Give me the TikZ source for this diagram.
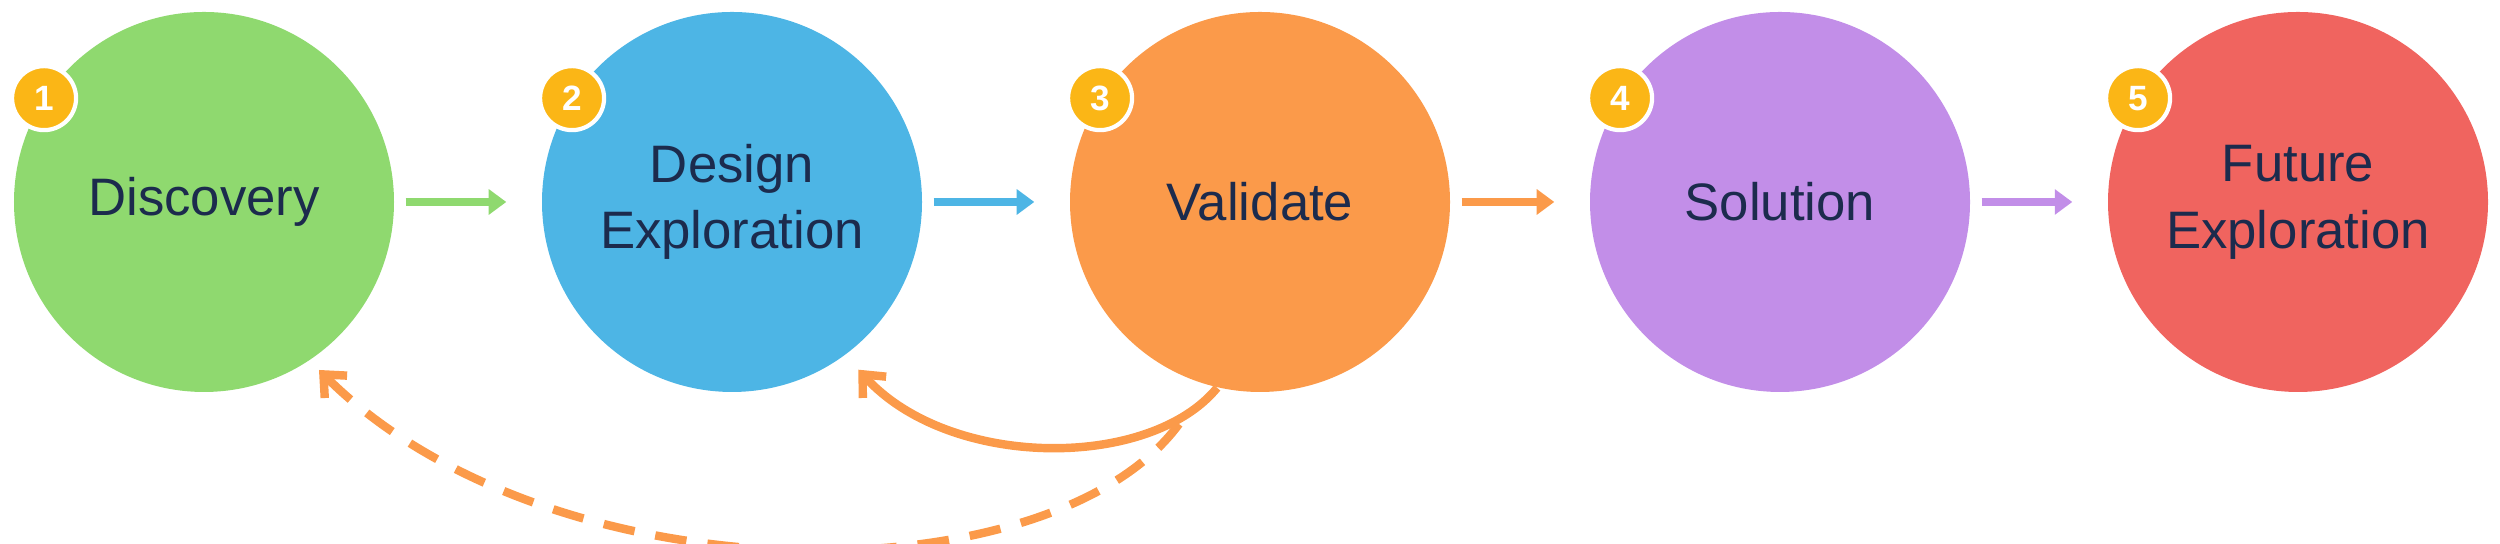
\documentclass[tikz,border=0pt]{standalone}
\usepackage{fontspec}
\setmainfont{Liberation Sans}
\usetikzlibrary{positioning}
\usetikzlibrary{calc}
\usetikzlibrary{arrows.meta}

\definecolor{navy}{HTML}{1C2B4D}
\definecolor{stepgreen}{HTML}{8FD96F}
\definecolor{stepblue}{HTML}{4DB5E5}
\definecolor{steporange}{HTML}{FB9A4A}
\definecolor{steppurple}{HTML}{C28EE8}
\definecolor{stepred}{HTML}{F0645F}
\definecolor{badgeyellow}{HTML}{FBB616}

\tikzset{
    stage/.style={circle, minimum size=3.8cm, inner sep=0, align=center,
        text=navy, font=\fontsize{15}{19}\selectfont},
    badge/.style={circle, fill=badgeyellow, draw=white, line width=1.2pt,
        minimum size=0.64cm, inner sep=0, text=white,
        font=\fontsize{10}{10}\selectfont\bfseries},
    flow/.style={line width=2.4pt, shorten <=0.11cm, shorten >=0.35cm,
        -{Triangle[width=7pt,length=5pt]}},
    backflow/.style={line width=2.4pt, draw=steporange,
        -{Straight Barb[width=9pt,length=5pt]}}
}

\begin{document}
\begin{tikzpicture}

% Stages of the process

\useasboundingbox (0,0) rectangle (25,5.44);

\node [stage, fill=stepgreen] (discovery) at (2.04,3.42) {Discovery};
\node [stage, fill=stepblue] (design) at (7.32,3.42) {Design\\Exploration};
\node [stage, fill=steporange] (validate) at (12.6,3.42) {Validate};
\node [stage, fill=steppurple] (solution) at (17.8,3.42) {Solution};
\node [stage, fill=stepred] (future) at (22.98,3.42) {Future\\Exploration};

\node [badge] (b1) at (discovery.147) {1};
\node [badge] (b2) at (design.147) {2};
\node [badge] (b3) at (validate.147) {3};
\node [badge] (b4) at (solution.147) {4};
\node [badge] (b5) at (future.147) {5};

\draw [flow, stepgreen] (discovery) -- (design);
\draw [flow, stepblue] (design) -- (validate);
\draw [flow, steporange] (validate) -- (solution);
\draw [flow, steppurple] (solution) -- (future);

% Loops back

\coordinate (solid start) at (validate.-103);
\coordinate (solid end) at ($(design.center)+(-53:2.1)$);
\draw [backflow] (solid start)
    .. controls (11.5,0.74) and (9.5,0.74) .. (solid end);

\coordinate (dash start) at (11.79,1.2);
\coordinate (dash end) at (3.19,1.74);
\draw [backflow, dash pattern=on 9pt off 6pt] (dash start)
    .. controls (10.5,-0.56) and (5.5,-0.56) .. (dash end);

\end{tikzpicture}
\end{document}
